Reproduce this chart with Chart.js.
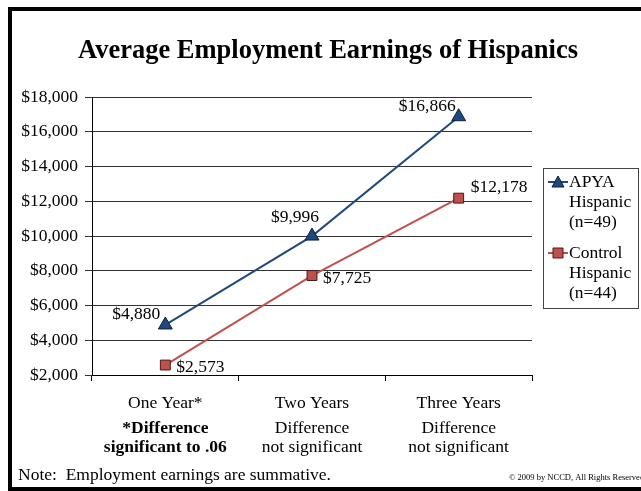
<!DOCTYPE html>
<html>
<head>
<meta charset="utf-8">
<script src="https://cdn.jsdelivr.net/npm/chart.js@4"></script>
<style>
  html, body { margin: 0; padding: 0; background: #fff; }
  #wrap { position: relative; width: 641px; height: 491px; }
</style>
</head>
<body>
<div id="wrap"><canvas id="chart" width="641" height="491"></canvas></div>
<script>
const years = ['One Year*', 'Two Years', 'Three Years'];
const notes = [
  ['*Difference', 'significant to .06'],
  ['Difference', 'not significant'],
  ['Difference', 'not significant']
];
const notesBold = [true, false, false];
const apya = [4880, 9996, 16866];
const control = [2573, 7725, 12178];
const yTicks = { min: 2000, max: 18000, step: 2000 };

const SERIF = '"Liberation Serif", "Times New Roman", serif';
const FS = 17.5;
const BLUE = '#1F497D';
const RED = '#C0504D';

const money = v => '$' + v.toLocaleString('en-US');

// label nudges (dx, dy, align) per point
const apyaLabelPos = [[-5, -11, 'right'], [7, -19, 'right'], [-3, -10, 'right']];
const controlLabelPos = [[11, 2, 'left'], [11, 3, 'left'], [12, -11, 'left']];

const decor = {
  id: 'decor',
  beforeDraw(chart) {
    const ctx = chart.ctx;
    ctx.save();
    ctx.fillStyle = '#fff';
    ctx.fillRect(0, 0, chart.width, chart.height);
    // black frame
    ctx.fillStyle = '#000';
    ctx.fillRect(8, 7, 4, 484);
    ctx.fillRect(8, 7, 633, 4);
    ctx.fillRect(8, 487, 633, 4);
    ctx.restore();
  },
  afterDraw(chart) {
    const ctx = chart.ctx;
    const x = chart.scales.x;
    ctx.save();
    ctx.fillStyle = '#000';
    ctx.textBaseline = 'middle';

    ctx.textAlign = 'center';
    ctx.font = 'bold 26.5px ' + SERIF;
    ctx.fillText('Average Employment Earnings of Hispanics', 328, 51);

    // category labels with significance notes
    years.forEach((y, i) => {
      const cx = x.getPixelForValue(i);
      ctx.font = FS + 'px ' + SERIF;
      ctx.fillText(y, cx, 403);
      ctx.font = (notesBold[i] ? 'bold ' : '') + FS + 'px ' + SERIF;
      ctx.fillText(notes[i][0], cx, 428);
      ctx.fillText(notes[i][1], cx, 447);
    });

    // value labels
    ctx.font = FS + 'px ' + SERIF;
    const drawLabels = (idx, vals, pos) => {
      chart.getDatasetMeta(idx).data.forEach((pt, i) => {
        const [dx, dy, al] = pos[i];
        ctx.textAlign = al;
        ctx.fillText(money(vals[i]), pt.x + dx, pt.y + dy);
      });
    };
    drawLabels(0, apya, apyaLabelPos);
    drawLabels(1, control, controlLabelPos);

    // legend box
    ctx.strokeStyle = '#444';
    ctx.lineWidth = 1;
    ctx.strokeRect(543.5, 168.5, 95, 140);
    const entries = [
      { ds: chart.data.datasets[0], y: 182, lines: ['APYA', 'Hispanic', '(n=49)'] },
      { ds: chart.data.datasets[1], y: 253, lines: ['Control', 'Hispanic', '(n=44)'] }
    ];
    entries.forEach(e => {
      ctx.strokeStyle = e.ds.borderColor;
      ctx.lineWidth = 2;
      ctx.beginPath();
      ctx.moveTo(548, e.y);
      ctx.lineTo(568, e.y);
      ctx.stroke();
      ctx.fillStyle = e.ds.pointBackgroundColor;
      ctx.strokeStyle = e.ds.pointBorderColor;
      ctx.lineWidth = 1;
      ctx.beginPath();
      if (e.ds.pointStyle === 'triangle') {
        ctx.moveTo(558, e.y - 6);
        ctx.lineTo(564, e.y + 5);
        ctx.lineTo(552, e.y + 5);
        ctx.closePath();
      } else {
        ctx.rect(553, e.y - 5, 10, 10);
      }
      ctx.fill();
      ctx.stroke();
      ctx.fillStyle = '#000';
      ctx.textAlign = 'left';
      ctx.font = FS + 'px ' + SERIF;
      e.lines.forEach((t, k) => ctx.fillText(t, 569, e.y + k * 20));
    });

    ctx.textAlign = 'left';
    ctx.font = FS + 'px ' + SERIF;
    ctx.fillText('Note:  Employment earnings are summative.', 18, 475);
    ctx.font = '8.5px ' + SERIF;
    ctx.fillText('\u00A9 2009 by NCCD, All Rights Reserved', 509, 478);
    ctx.restore();
  }
};

new Chart(document.getElementById('chart'), {
  type: 'line',
  data: {
    labels: years,
    datasets: [
      {
        label: 'APYA Hispanic (n=49)',
        data: apya,
        borderColor: BLUE,
        borderWidth: 2,
        pointStyle: 'triangle',
        pointRadius: 8,
        pointBackgroundColor: BLUE,
        pointBorderColor: '#0b1f3a',
        pointBorderWidth: 1,
        tension: 0
      },
      {
        label: 'Control Hispanic (n=44)',
        data: control,
        borderColor: RED,
        borderWidth: 2,
        pointStyle: 'rect',
        pointRadius: 7,
        pointBackgroundColor: RED,
        pointBorderColor: '#4a1a18',
        pointBorderWidth: 1,
        tension: 0
      }
    ]
  },
  options: {
    responsive: false,
    animation: false,
    layout: { padding: { left: 0, top: 97, right: 109, bottom: 0 } },
    plugins: { legend: { display: false }, tooltip: { enabled: false } },
    scales: {
      x: {
        offset: true,
        grid: { offset: true, drawOnChartArea: false, drawTicks: true, tickLength: 6, color: '#000' },
        border: { color: '#000', width: 1 },
        ticks: { display: false },
        afterFit: s => { s.height = 116; }
      },
      y: {
        min: yTicks.min,
        max: yTicks.max,
        grid: { color: '#333', tickLength: 7, lineWidth: 1 },
        border: { color: '#000', width: 1 },
        ticks: {
          stepSize: yTicks.step,
          color: '#000',
          padding: 7,
          font: { family: SERIF, size: FS },
          callback: v => money(v)
        },
        afterFit: s => { s.width = 92; }
      }
    }
  },
  plugins: [decor]
});
</script>
</body>
</html>
